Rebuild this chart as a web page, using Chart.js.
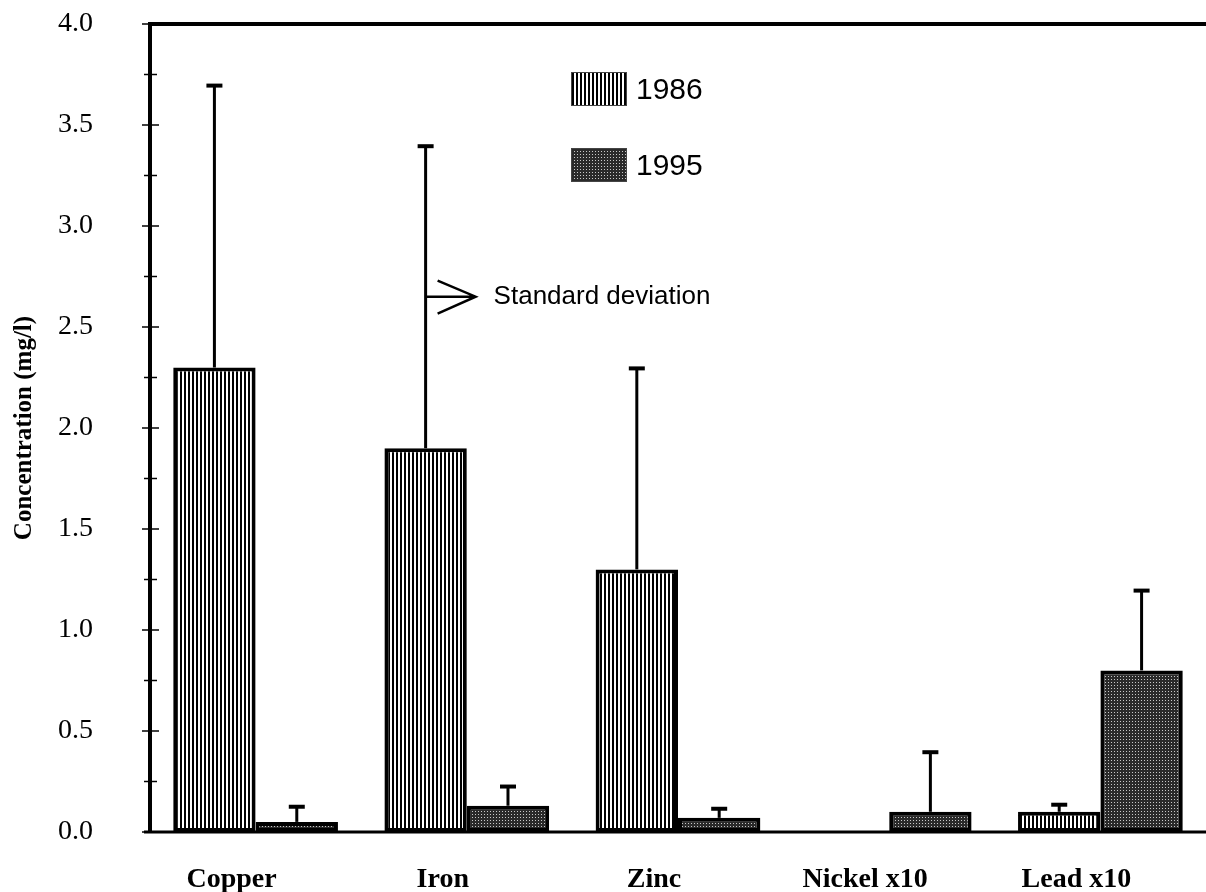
<!DOCTYPE html>
<html>
<head>
<meta charset="utf-8">
<script src="https://cdn.jsdelivr.net/npm/chart.js@4.4.1/dist/chart.umd.min.js"></script>
<style>
  html, body { margin: 0; padding: 0; background: #fff; }
</style>
</head>
<body>
<canvas id="chart" width="1206" height="892"></canvas>
<script>
const metals = ['Copper', 'Iron', 'Zinc', 'Nickel x10', 'Lead x10'];
const years = ['1986', '1995'];
const conc1986 = [2.3, 1.9, 1.3, null, 0.1];
const conc1995 = [0.05, 0.13, 0.07, 0.1, 0.8];
const sd1986 = [1.4, 1.5, 1.0, null, 0.04];
const sd1995 = [0.08, 0.1, 0.05, 0.3, 0.4];
const yMax = 4;
const yStep = 0.5;

function stripes() {
    const c = document.createElement('canvas');
    c.width = 4; c.height = 4;
    const g = c.getContext('2d');
    g.fillStyle = '#fff';
    g.fillRect(0, 0, 4, 4);
    g.fillStyle = '#000';
    g.fillRect(0, 0, 2, 4);
    return g.createPattern(c, 'repeat');
}

function dots() {
    const c = document.createElement('canvas');
    c.width = 3; c.height = 3;
    const g = c.getContext('2d');
    g.fillStyle = '#2a2a2a';
    g.fillRect(0, 0, 3, 3);
    g.fillStyle = '#c8c8c8';
    g.fillRect(1, 1, 1, 1);
    return g.createPattern(c, 'repeat');
}

const fills = [stripes(), dots()];

// axes frame, ticks, error bars, legend and the note
const extras = {
    id: 'extras',
    afterDatasetsDraw(chart) {
        const { ctx, chartArea: a, scales: { y } } = chart;
        ctx.save();
        ctx.strokeStyle = '#000';
        ctx.lineCap = 'butt';

        ctx.lineWidth = 4;
        ctx.beginPath();
        ctx.moveTo(a.left, a.bottom);
        ctx.lineTo(a.left, a.top);
        ctx.lineTo(a.right, a.top);
        ctx.stroke();
        ctx.lineWidth = 3;
        ctx.beginPath();
        ctx.moveTo(a.left - 6, a.bottom);
        ctx.lineTo(a.right, a.bottom);
        ctx.stroke();

        ctx.lineWidth = 1.5;
        for (let v = 0; v <= yMax + 1e-9; v += yStep / 2) {
            const py = y.getPixelForValue(v);
            const major = Math.abs(v / yStep - Math.round(v / yStep)) < 1e-6;
            ctx.beginPath();
            ctx.moveTo(a.left - (major ? 8 : 6), py);
            ctx.lineTo(a.left + (major ? 9 : 7), py);
            ctx.stroke();
        }

        chart.data.datasets.forEach((ds, i) => {
            const meta = chart.getDatasetMeta(i);
            meta.data.forEach((bar, j) => {
                const v = ds.data[j], s = ds.sd[j];
                if (v == null || s == null) return;
                const top = y.getPixelForValue(v + s);
                ctx.lineWidth = 3;
                ctx.beginPath();
                ctx.moveTo(bar.x, bar.y);
                ctx.lineTo(bar.x, top);
                ctx.stroke();
                ctx.lineWidth = 4;
                ctx.beginPath();
                ctx.moveTo(bar.x - 8, top + 1);
                ctx.lineTo(bar.x + 8, top + 1);
                ctx.stroke();
            });
        });

        // note pointing at the iron error bar
        const ironBar = chart.getDatasetMeta(0).data[1];
        const ny = y.getPixelForValue(2.65);
        const nx = ironBar.x;
        ctx.lineWidth = 2.5;
        ctx.beginPath();
        ctx.moveTo(nx, ny);
        ctx.lineTo(nx + 50, ny);
        ctx.moveTo(nx + 12, ny - 16);
        ctx.lineTo(nx + 50, ny);
        ctx.lineTo(nx + 12, ny + 17);
        ctx.stroke();
        ctx.fillStyle = '#000';
        ctx.font = '26px "Liberation Sans", Arial, sans-serif';
        ctx.textAlign = 'left';
        ctx.textBaseline = 'middle';
        ctx.fillText('Standard deviation', nx + 68, ny);

        // legend
        ctx.font = '30px "Liberation Sans", Arial, sans-serif';
        years.forEach((yr, i) => {
            const by = 72 + i * 76;
            ctx.fillStyle = fills[i];
            ctx.fillRect(571, by, 56, 34);
            ctx.lineWidth = 1;
            ctx.strokeStyle = '#444';
            ctx.strokeRect(571.5, by + 0.5, 55, 33);
            ctx.fillStyle = '#000';
            ctx.fillText(yr, 636, by + 19);
        });
        ctx.restore();
    }
};

new Chart(document.getElementById('chart'), {
    type: 'bar',
    data: {
        labels: metals,
        datasets: [
            {
                label: years[0],
                data: conc1986,
                sd: sd1986,
                backgroundColor: fills[0],
                borderColor: '#000',
                borderWidth: 4,
                borderSkipped: false
            },
            {
                label: years[1],
                data: conc1995,
                sd: sd1995,
                backgroundColor: fills[1],
                borderColor: '#000',
                borderWidth: 4,
                borderSkipped: false
            }
        ]
    },
    options: {
        responsive: false,
        animation: false,
        devicePixelRatio: 1,
        categoryPercentage: 0.78,
        barPercentage: 1.0,
        layout: { padding: { top: 24, right: 0, left: 0, bottom: 0 } },
        plugins: {
            legend: { display: false },
            tooltip: { enabled: false }
        },
        scales: {
            x: {
                grid: { display: false },
                border: { display: false },
                ticks: {
                    color: '#000',
                    padding: 23,
                    labelOffset: -24,
                    font: { family: '"Liberation Serif", "Times New Roman", serif', size: 28, weight: 'bold' }
                },
                afterFit(scale) {
                    scale.height = 60;
                    scale.paddingLeft = 0;
                    scale.paddingRight = 0;
                }
            },
            y: {
                min: 0,
                max: yMax,
                grid: { display: false },
                border: { display: false },
                ticks: {
                    stepSize: yStep,
                    color: '#000',
                    padding: 49,
                    font: { family: '"Liberation Serif", "Times New Roman", serif', size: 28 },
                    callback: v => v.toFixed(1)
                },
                title: {
                    display: true,
                    text: 'Concentration (mg/l)',
                    color: '#000',
                    padding: { top: 10, bottom: 0 },
                    font: { family: '"Liberation Serif", "Times New Roman", serif', size: 25, weight: 'bold' }
                },
                afterFit(scale) {
                    scale.width = 150;
                    scale.paddingTop = 0;
                    scale.paddingBottom = 0;
                }
            }
        }
    },
    plugins: [extras]
});
</script>
</body>
</html>
